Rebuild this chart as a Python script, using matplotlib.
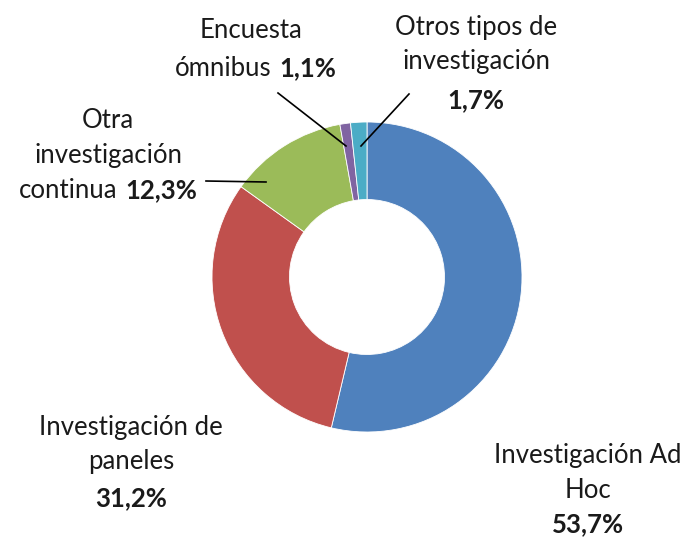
import matplotlib
matplotlib.use("Agg")
import matplotlib.pyplot as plt

categories = ["Investigación Ad Hoc", "Investigación de paneles", "Otra investigación continua",
              "Encuesta ómnibus", "Otros tipos de investigación"]
values = [53.7, 31.2, 12.3, 1.1, 1.7]
colors = ["#4F81BD", "#C0504D", "#9BBB59", "#8064A2", "#4BACC6"]

W, H = 686, 538
fig = plt.figure(figsize=(W / 100, H / 100), dpi=100)
ax = fig.add_axes([0, 0, 1, 1])

cx, cy, R = 367, H - 277, 155
ax.pie(values, colors=colors, startangle=90, counterclock=False, center=(cx, cy), radius=R,
       wedgeprops=dict(width=R * 0.5, edgecolor="white", linewidth=0.6), frame=True)
ax.set_xlim(0, W)
ax.set_ylim(0, H)
ax.set_aspect("equal")
ax.axis("off")

FONT = "Lato"
FS = 18.5
def t(x, y, s, ha="center", bold=False):
    ax.text(x, H - y, s, ha=ha, va="center", fontsize=FS, family=FONT,
            fontweight="bold" if bold else "normal", color="#1a1a1a")

def fmt(v):
    return f"{v:.1f}%".replace(".", ",")

# Encuesta ómnibus
t(251, 30, "Encuesta")
t(272, 68, "ómnibus", ha="right")
t(279, 68, fmt(values[3]), ha="left", bold=True)
# Otros tipos
t(476, 27, "Otros tipos de")
t(476, 62, "investigación")
t(476, 100, fmt(values[4]), bold=True)
# Otra investigación continua
t(108, 120, "Otra")
t(108, 156, "investigación")
t(117, 190, "continua", ha="right")
t(125, 190, fmt(values[2]), ha="left", bold=True)
# paneles
t(131, 427, "Investigación de")
t(131, 462, "paneles")
t(131, 498, fmt(values[1]), bold=True)
# Ad Hoc
t(588, 455, "Investigación Ad")
t(588, 490, "Hoc")
t(588, 524, fmt(values[0]), bold=True)

# leader lines
for (x1, y1), (x2, y2) in [((278, 93), (346, 146)), ((409, 94), (361, 146)), ((206, 181), (266, 182))]:
    ax.plot([x1, x2], [H - y1, H - y2], color="black", linewidth=1.2)

fig.savefig("out.png", dpi=100)
